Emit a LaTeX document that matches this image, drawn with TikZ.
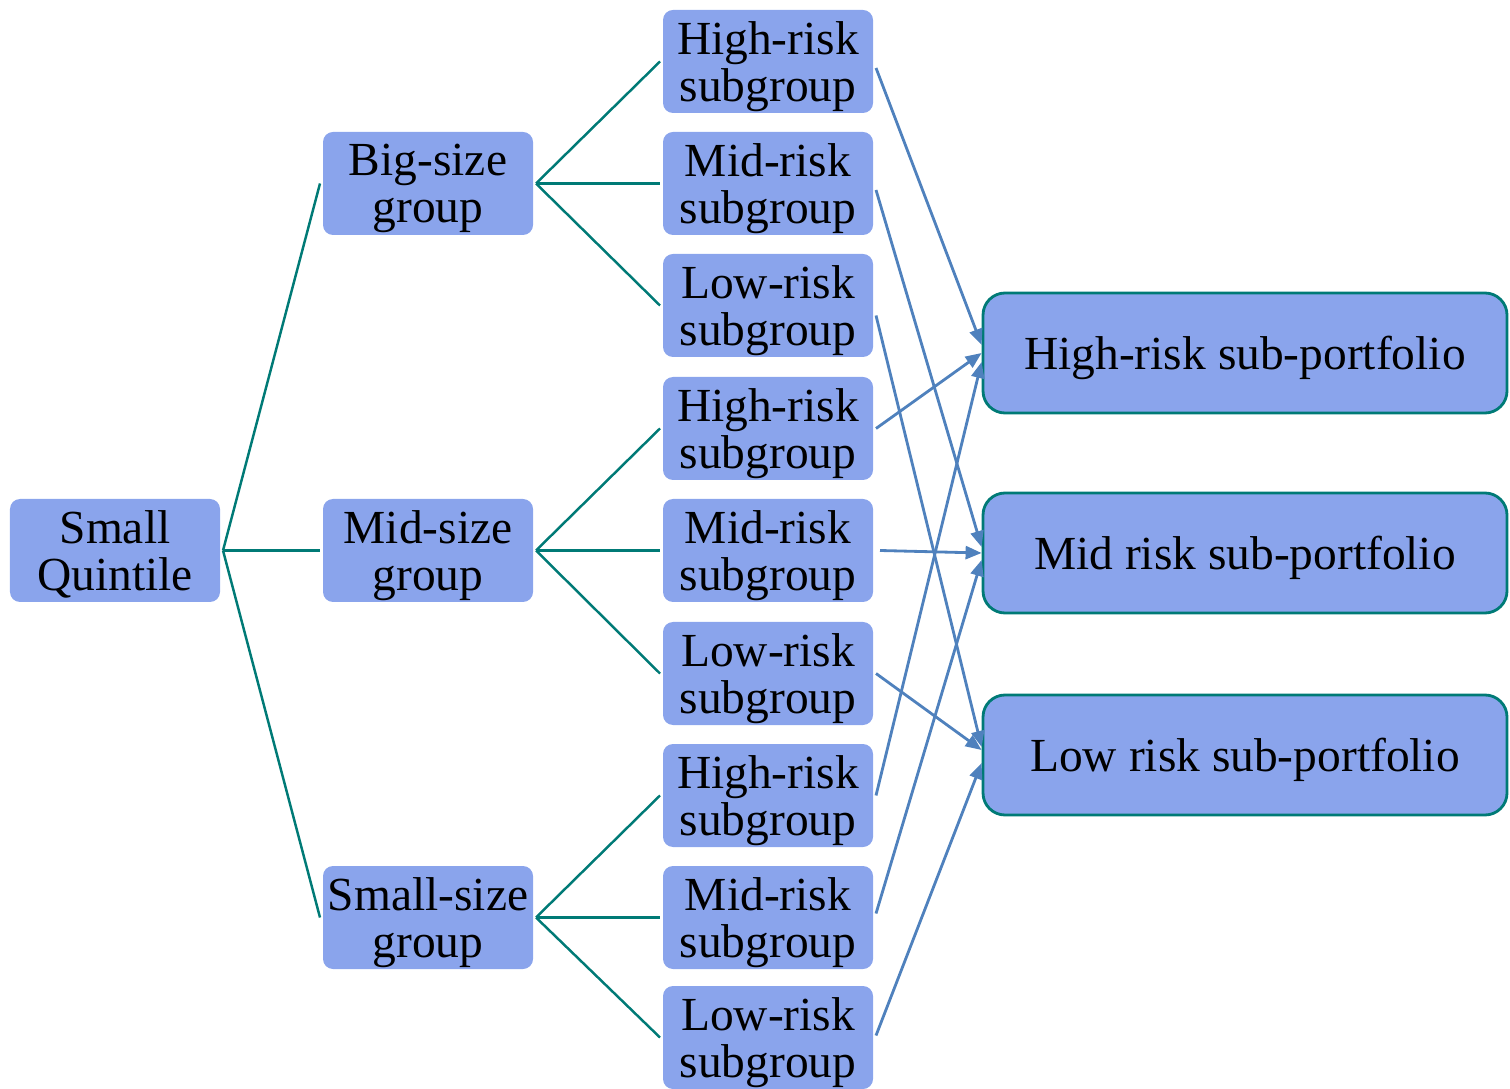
\documentclass[tikz,border=0pt]{standalone}
\usepackage{fontspec}
\setmainfont{Liberation Serif}
\usetikzlibrary{arrows.meta}
\definecolor{boxblue}{RGB}{138,164,236}
\definecolor{treeteal}{RGB}{0,122,118}
\definecolor{arrowblue}{RGB}{79,129,189}
\tikzset{grp/.style={fill=boxblue,rounded corners=0.1cm,minimum width=2.1cm,minimum height=1.03cm,inner sep=0pt,outer sep=0.03cm,align=center,text depth=0pt,font=\fontsize{13.5}{13.4}\selectfont}}
\tikzset{pf/.style={fill=boxblue,draw=treeteal,line width=0.8pt,rounded corners=0.22cm,minimum width=5.24cm,minimum height=1.2cm,inner sep=0pt,text depth=0pt,font=\fontsize{13.5}{13.8}\selectfont}}
\tikzset{tr/.style={treeteal,line width=0.7pt}}
\tikzset{ar/.style={arrowblue,line width=0.8pt,-{Triangle[length=0.16cm,width=0.13cm]}}}

\begin{document}
\begin{tikzpicture}[line join=round]
  \useasboundingbox (0,0) rectangle (15.10,-10.89);
  % tree
  \node[grp] (Q) at (1.15,-5.505) {Small\\Quintile};
  \node[grp] (B) at (4.28,-1.835) {Big-size\\group};
  \node[grp] (M) at (4.28,-5.505) {Mid-size\\group};
  \node[grp] (S) at (4.28,-9.175) {Small-size\\group};
  \node[grp] (H1) at (7.68,-0.615) {High-risk\\subgroup};
  \node[grp] (M1) at (7.68,-1.835) {Mid-risk\\subgroup};
  \node[grp] (L1) at (7.68,-3.055) {Low-risk\\subgroup};
  \node[grp] (H2) at (7.68,-4.285) {High-risk\\subgroup};
  \node[grp] (M2) at (7.68,-5.505) {Mid-risk\\subgroup};
  \node[grp] (L2) at (7.68,-6.735) {Low-risk\\subgroup};
  \node[grp] (H3) at (7.68,-7.955) {High-risk\\subgroup};
  \node[grp] (M3) at (7.68,-9.175) {Mid-risk\\subgroup};
  \node[grp] (L3) at (7.68,-10.375) {Low-risk\\subgroup};
  \draw[tr] (Q.east) -- (B.west);
  \draw[tr] (Q.east) -- (M.west);
  \draw[tr] (Q.east) -- (S.west);
  \draw[tr] (B.east) -- (H1.west);
  \draw[tr] (B.east) -- (M1.west);
  \draw[tr] (B.east) -- (L1.west);
  \draw[tr] (M.east) -- (H2.west);
  \draw[tr] (M.east) -- (M2.west);
  \draw[tr] (M.east) -- (L2.west);
  \draw[tr] (S.east) -- (H3.west);
  \draw[tr] (S.east) -- (M3.west);
  \draw[tr] (S.east) -- (L3.west);
  % sub-portfolios
  \node[pf] (HP) at (12.45,-3.53) {High-risk sub-portfolio};
  \node[pf] (MP) at (12.45,-5.53) {Mid risk sub-portfolio};
  \node[pf] (LP) at (12.45,-7.55) {Low risk sub-portfolio};
  \draw[ar] ([yshift=-0.065cm]H1.east) -- ([yshift=0.08cm]HP.west);
  \draw[ar] ([yshift=-0.065cm]M1.east) -- ([yshift=0.06cm]MP.west);
  \draw[ar] ([yshift=-0.1cm]L1.east) -- ([yshift=0.08cm]LP.west);
  \draw[ar] (H2.east) -- (HP.west);
  \draw[ar] ([xshift=0.04cm]M2.east) -- (MP.west);
  \draw[ar] (L2.east) -- ([yshift=0.05cm]LP.west);
  \draw[ar] (H3.east) -- ([yshift=-0.09cm]HP.west);
  \draw[ar] ([yshift=0.04cm]M3.east) -- ([yshift=-0.07cm]MP.west);
  \draw[ar] ([yshift=0.02cm]L3.east) -- ([yshift=-0.08cm]LP.west);
\end{tikzpicture}
\end{document}
